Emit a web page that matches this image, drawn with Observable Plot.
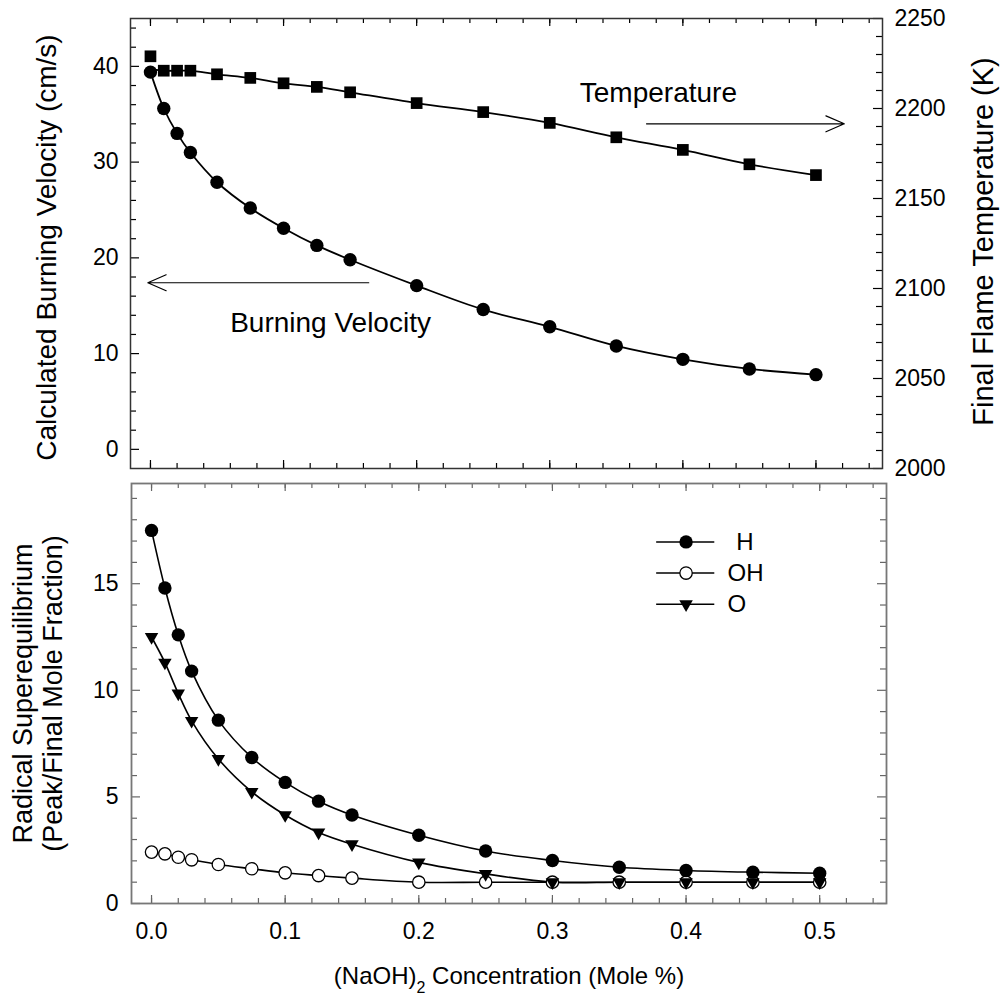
<!DOCTYPE html>
<html><head><meta charset="utf-8">
<script src="https://cdn.jsdelivr.net/npm/d3@7"></script>
<script src="https://cdn.jsdelivr.net/npm/@observablehq/plot@0.6"></script>
<style>
body{margin:0;background:#fff;}
#wrap{position:relative;width:1006px;height:996px;overflow:hidden;}
#top,#bottom{position:absolute;left:0;}
#top{top:0;} #bottom{top:475px;}
</style></head><body><div id="wrap"><div id="top"></div><div id="bottom"></div></div>
<script>
// ---- data ----
const conc = [0, 0.01, 0.02, 0.03, 0.05, 0.075, 0.1, 0.125, 0.15, 0.2, 0.25, 0.3, 0.35, 0.4, 0.45, 0.5];
const burningVelocity = [39.4, 35.6, 33.0, 31.0, 27.9, 25.2, 23.1, 21.3, 19.8, 17.1, 14.6, 12.8, 10.8, 9.4, 8.4, 7.8];
const flameTemperature = [2229, 2221, 2221, 2221, 2219, 2217, 2214, 2212, 2209, 2203, 2198, 2192, 2184, 2177, 2169, 2163];
const tempFitAtZero = 2222;
const superH = [17.5, 14.8, 12.6, 10.9, 8.6, 6.85, 5.68, 4.8, 4.15, 3.2, 2.46, 2.02, 1.7, 1.55, 1.47, 1.42];
const superOH = [2.41, 2.33, 2.17, 2.05, 1.83, 1.63, 1.44, 1.31, 1.19, 1.0, 1.0, 1.0, 1.0, 1.0, 1.0, 1.0];
const superO = [12.5, 11.3, 9.85, 8.57, 6.78, 5.24, 4.15, 3.33, 2.78, 1.93, 1.39, 1.0, 1.0, 1.0, 1.0, 1.0];
const seriesNames = ["H", "OH", "O"];
const xTickValues = [0, 0.1, 0.2, 0.3, 0.4, 0.5];
const bvTickValues = [0, 10, 20, 30, 40];
const tempTickValues = [2000, 2050, 2100, 2150, 2200, 2250];
const superTickValues = [0, 5, 10, 15];
const labels = {
  x: "(NaOH)2 Concentration (Mole %)",
  yTop: "Calculated Burning Velocity (cm/s)",
  yTopRight: "Final Flame Temperature (K)",
  yBottom: "Radical Superequilibrium\n(Peak/Final Mole Fraction)",
  tempNote: "Temperature",
  bvNote: "Burning Velocity"
};

// ---- layout ----
const FONT = '"Liberation Sans", Arial, Helvetica, sans-serif';
const W = 1006;
const xDomain = [-0.015, 0.55];
const bvDomain = [-2, 45];
const tDomain = [2000, 2250];
const t2y = t => bvDomain[0] + (t - tDomain[0]) * (bvDomain[1] - bvDomain[0]) / (tDomain[1] - tDomain[0]);
const y2t = v => tDomain[0] + (v - bvDomain[0]) * (tDomain[1] - tDomain[0]) / (bvDomain[1] - bvDomain[0]);

const xMinor = d3.range(0, 28).map(i => +(i * 0.02).toFixed(2));

function ticksX(vals, len, fh, stroke) {
  return [
    Plot.tickX(vals, {x: d => d, insetTop: fh - len, stroke, strokeWidth: 1.2}),
    Plot.tickX(vals, {x: d => d, insetBottom: fh - len, stroke, strokeWidth: 1.2})
  ];
}
function ticksY(vals, len, fw, stroke, side) {
  return side === "left"
    ? Plot.tickY(vals, {y: d => d, insetRight: fw - len, stroke, strokeWidth: 1.2})
    : Plot.tickY(vals, {y: d => d, insetLeft: fw - len, stroke, strokeWidth: 1.2});
}

// ---- top panel ----
const TOP = {h: 480, l: 130, r: 124, t: 18, b: 12};
const topFW = W - TOP.l - TOP.r, topFH = TOP.h - TOP.t - TOP.b;
const bvData = conc.map((c, i) => ({c, v: burningVelocity[i]}));
const tData = conc.map((c, i) => ({c, t: flameTemperature[i]}));
const tLine = conc.map((c, i) => ({c, t: i === 0 ? tempFitAtZero : flameTemperature[i]}));
const bvMinor = d3.range(0, 46, 2).filter(v => v % 10 !== 0);
const tMinor = d3.range(2010, 2250, 10).filter(v => v % 50 !== 0).map(t2y);

const topPlot = Plot.plot({
  width: W, height: TOP.h,
  marginLeft: TOP.l, marginRight: TOP.r, marginTop: TOP.t, marginBottom: TOP.b,
  x: {domain: xDomain, axis: null},
  y: {domain: bvDomain},
  style: {fontFamily: FONT, color: "#000", background: "transparent", overflow: "visible"},
  marks: [
    ...ticksX(xMinor, 5, topFH, "#000"),
    ...ticksX(xTickValues, 8, topFH, "#000"),
    ticksY(bvMinor, 6, topFW, "#000", "left"),
    ticksY(bvTickValues, 9, topFW, "#000", "left"),
    ticksY(tMinor, 6, topFW, "#000", "right"),
    ticksY(tempTickValues.map(t2y), 9, topFW, "#000", "right"),
    Plot.frame({stroke: "#333", strokeWidth: 1.5}),
    Plot.axisY(bvTickValues, {anchor: "left", tickSize: 0, tickPadding: 12, fontSize: 23, label: null}),
    Plot.axisY(tempTickValues.map(t2y), {anchor: "right", tickSize: 0, tickPadding: 12, fontSize: 23, label: null,
      tickFormat: v => String(Math.round(y2t(v)))}),
    Plot.line(tLine, {x: "c", y: d => t2y(d.t), curve: "catmull-rom", stroke: "#000", strokeWidth: 1.8}),
    Plot.line(bvData, {x: "c", y: "v", curve: "catmull-rom", stroke: "#000", strokeWidth: 1.8}),
    Plot.dot(tData, {x: "c", y: d => t2y(d.t), symbol: "square", r: 6.6, fill: "#000"}),
    Plot.dot(bvData, {x: "c", y: "v", r: 6.7, fill: "#000"}),
    Plot.arrow([0], {x1: () => 0.3727, x2: () => 0.5213, y1: () => t2y(2191.5), y2: () => t2y(2191.5),
      headLength: 25, headAngle: 47, stroke: "#000", strokeWidth: 1.2}),
    Plot.arrow([0], {x1: () => 0.164, x2: () => -0.002, y1: () => 17.4, y2: () => 17.4,
      headLength: 25, headAngle: 47, stroke: "#000", strokeWidth: 1.2}),
    Plot.text([labels.tempNote], {x: () => 0.3816, y: () => 36.24, text: d => d, fontSize: 28, textAnchor: "middle", lineAnchor: "bottom"}),
    Plot.text([labels.bvNote], {x: () => 0.1353, y: () => 12.3, text: d => d, fontSize: 28, textAnchor: "middle", lineAnchor: "bottom"}),
    Plot.text([labels.yTop], {frameAnchor: "left", dx: -83, dy: 4, rotate: -90, text: d => d, fontSize: 28, textAnchor: "middle", lineAnchor: "middle"}),
    Plot.text([labels.yTopRight], {frameAnchor: "right", dx: 101, dy: -2, rotate: -90, text: d => d, fontSize: 29, textAnchor: "middle", lineAnchor: "middle"})
  ]
});
document.getElementById("top").appendChild(topPlot);

// ---- bottom panel ----
const BOT = {h: 521, l: 131, r: 120, t: 8, b: 93};
const botFW = W - BOT.l - BOT.r, botFH = BOT.h - BOT.t - BOT.b;
const superMinor = d3.range(1, 20).filter(v => v % 5 !== 0);
const seriesValues = {H: superH, OH: superOH, O: superO};
const seriesStyle = {
  H: {symbol: "circle", r: 6.7, fill: "#000", stroke: "none", rotate: 0},
  OH: {symbol: "circle", r: 6.2, fill: "#fff", stroke: "#000", rotate: 0},
  O: {symbol: "triangle", r: 5.0, fill: "#000", stroke: "none", rotate: 180}
};
const legendX = {line1: 0.378, line2: 0.4215, marker: 0.40};
const legendY = i => 16.96 - i * 1.46;

const seriesMarks = [];
const markerMarks = [];
const legendMarks = [];
seriesNames.forEach((name, i) => {
  const data = conc.map((c, j) => ({c, v: seriesValues[name][j]}));
  const st = seriesStyle[name];
  seriesMarks.push(Plot.line(data, {x: "c", y: "v", curve: "catmull-rom", stroke: "#000", strokeWidth: 1.6}));
  markerMarks.push(Plot.dot(data, {x: "c", y: "v", symbol: st.symbol, r: st.r, fill: st.fill, stroke: st.stroke, strokeWidth: 1.3, rotate: st.rotate}));
  legendMarks.push(Plot.ruleY([name], {y: () => legendY(i), x1: () => legendX.line1, x2: () => legendX.line2, stroke: "#000", strokeWidth: 1.5}));
  legendMarks.push(Plot.dot([name], {x: () => legendX.marker, y: () => legendY(i), symbol: st.symbol, r: st.r, fill: st.fill, stroke: st.stroke, strokeWidth: 1.3, rotate: st.rotate}));
  legendMarks.push(Plot.text([name], {x: () => (i === 0 ? 0.4375 : 0.431), y: () => legendY(i), text: d => d, fontSize: 24, textAnchor: "start", lineAnchor: "middle"}));
});
// draw OH first, then O, then H on top
const order = [1, 2, 0];

const botPlot = Plot.plot({
  width: W, height: BOT.h,
  marginLeft: BOT.l, marginRight: BOT.r, marginTop: BOT.t, marginBottom: BOT.b,
  x: {domain: xDomain},
  y: {domain: [0, 19.7]},
  style: {fontFamily: FONT, color: "#000", background: "transparent", overflow: "visible"},
  marks: [
    ...ticksX(xMinor, 5, botFH, "#666"),
    ...ticksX(xTickValues, 8, botFH, "#666"),
    ticksY(superMinor, 6, botFW, "#666", "left"),
    ticksY(superTickValues, 9, botFW, "#666", "left"),
    ticksY(superMinor, 6, botFW, "#666", "right"),
    ticksY(superTickValues, 9, botFW, "#666", "right"),
    Plot.frame({stroke: "#777", strokeWidth: 1.8}),
    Plot.axisX(xTickValues, {anchor: "bottom", tickSize: 0, tickPadding: 19, fontSize: 23, label: null, tickFormat: d3.format(".1f")}),
    Plot.axisY(superTickValues, {anchor: "left", tickSize: 0, tickPadding: 13, fontSize: 23, label: null}),
    ...seriesMarks,
    ...order.map(i => markerMarks[i]),
    ...legendMarks,
    Plot.text([labels.x], {frameAnchor: "bottom", dy: 80, text: d => d, fontSize: 24, textAnchor: "middle", lineAnchor: "bottom"}),
    Plot.text([labels.yBottom], {frameAnchor: "left", dx: -94, rotate: -90, text: d => d, fontSize: 27, lineHeight: 1.12, textAnchor: "middle", lineAnchor: "middle"})
  ]
});
document.getElementById("bottom").appendChild(botPlot);

// subscript the "2" in (NaOH)2
botPlot.querySelectorAll("text").forEach(el => {
  if (el.textContent === labels.x) {
    const ns = "http://www.w3.org/2000/svg";
    el.textContent = "";
    const a = document.createElementNS(ns, "tspan"); a.textContent = "(NaOH)";
    const b = document.createElementNS(ns, "tspan"); b.textContent = "2"; b.setAttribute("dy", "9"); b.setAttribute("font-size", "16");
    const c = document.createElementNS(ns, "tspan"); c.textContent = " Concentration (Mole %)"; c.setAttribute("dy", "-9");
    el.append(a, b, c);
  }
});
</script></body></html>
